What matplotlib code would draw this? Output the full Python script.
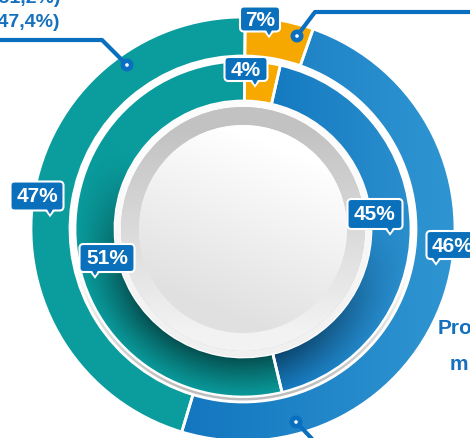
import numpy as np
import matplotlib
matplotlib.use('Agg')
import matplotlib.pyplot as plt
from matplotlib.patches import Circle, FancyBboxPatch, Polygon, Wedge
from matplotlib.colors import to_rgb

# arc sizes as drawn (percent of the circle), clockwise from the top
outer_share = [5.2, 49.3, 45.5]
inner_share = [3.4, 42.7, 53.9]
# percentages printed on the tags
outer_tags = ['7%', '46%', '47%']
inner_tags = ['4%', '45%', '51%']
side_notes = ['(51,2%)', '(47,4%)']
right_notes = ['Pro', 'm']

ORANGE = '#F7A800'
BLUE = '#1A7EC4'
TEAL = '#0B9A9B'
TAG = '#0A70BC'
INK = '#1570BE'

W, H = 470, 439
CX, CY = 243, H - 230

fig = plt.figure(figsize=(4.70, 4.39), dpi=100)
ax = fig.add_axes([0, 0, 1, 1])

X, Y = np.meshgrid(np.arange(W) + 0.5, np.arange(H) + 0.5)
RR = np.hypot(X - CX, Y - CY)


def lerp(c1, c2, t):
    a, b = np.array(to_rgb(c1)), np.array(to_rgb(c2))
    t = np.clip(t, 0, 1)[..., None]
    return a * (1 - t) + b * t


def flat(c):
    return np.ones((H, W, 3)) * np.array(to_rgb(c))


def paint(patch, rgb, z=1.5):
    im = ax.imshow(rgb, extent=(0, W, 0, H), origin='lower', zorder=z,
                   interpolation='bilinear')
    im.set_clip_path(patch)


def shadow(r_in, depth):
    # cast by the centre disc towards the lower left
    s = np.clip(1 - (RR - r_in) / 42, 0, 1) ** 1.2
    ux, uy = (X - CX) / (RR + 1e-9), (Y - CY) / (RR + 1e-9)
    b = np.clip(0.25 + 0.85 * (-0.3 * ux - uy), 0, 1)
    return (1 - depth * s * b)[..., None]


wp = dict(edgecolor='white', linewidth=2)
outer, _ = ax.pie(outer_share, radius=212, center=(CX, CY), startangle=89.4,
                  counterclock=False, colors=[ORANGE, BLUE, TEAL],
                  wedgeprops=dict(width=39, **wp))
inner, _ = ax.pie(inner_share, radius=168, center=(CX, CY), startangle=89.4,
                  counterclock=False, colors=[ORANGE, BLUE, TEAL],
                  wedgeprops=dict(width=40, **wp))

fills = [
    (outer[0], flat('#F7A800')),
    (outer[1], lerp('#1376BF', '#3096D2', (X - 180) / 280)),
    (outer[2], flat('#0B9C9D')),
    (inner[0], flat('#F8A900')),
    (inner[1], lerp('#1379C0', '#2A8ECD', (X - 260) / 150) * shadow(128, 0.45)),
    (inner[2], flat('#0A9C9D') * shadow(128, 0.5)),
]
for w, rgb in fills:
    paint(w, rgb)
    w.set_facecolor('none')
    w.set_zorder(3)

# soft grey on the lower part of the white gap
gap = Wedge((CX, CY), 171.5, 0, 360, width=2.5, fc='white', ec='none', zorder=3.5)
ax.add_patch(gap)
paint(gap, lerp('#FFFFFF', '#BDBDBD', (CY - 40 - Y) / 120), 3.5)

# centre button
ring = Circle((CX, CY), 128, fc='#F6F6F6', ec='none', zorder=4)
ax.add_patch(ring)
paint(ring, lerp('#FCFCFC', '#EFEFEF', (CY + 60 - Y) / 200), 4)
bevel = Circle((CX, CY), 122, fc='#D0D0D0', ec='none', zorder=4.1)
ax.add_patch(bevel)
paint(bevel, lerp('#C2C2C2', '#F2F2F2', ((CY + 100) - Y) / 200), 4.1)
disc = Circle((CX, CY), 104, fc='#F0F0F0', ec='none', zorder=4.2)
ax.add_patch(disc)
diag = (0.4 * (X - CX) + (Y - CY)) / 104
paint(disc, lerp('#E0E0E0', '#FFFFFF', 0.5 + diag * 0.55), 4.2)

# callout lines with dots (pixel coordinates, y down)
calls = [
    [(297, 37), (315, 13), (475, 13)],
    [(127, 66), (102, 41), (-5, 41)],
    [(296, 423), (316, 444)],
]
for pts in calls:
    xs = [p[0] for p in pts]
    ys = [H - p[1] for p in pts]
    ax.plot(xs, ys, color='#0A6FBF', lw=3, solid_capstyle='butt', zorder=7)
    ax.add_patch(Circle((xs[0], ys[0]), 6.5, fc='#0A6FBF', ec='none', zorder=7.1))
    ax.add_patch(Circle((xs[0], ys[0]), 1.8, fc='white', ec='none', zorder=7.2))

# tags: centre x, centre y, width, height, pointer x (pixels)
tag_boxes = [
    (260, 20, 40, 25, 269), (452, 246, 51, 28, 436), (37, 197, 53, 29, 50),
    (246, 70, 43, 24, 255), (375, 215, 55, 30, 390), (107, 259, 55, 28, 95),
]
for (x, yp, w, h, px), txt in zip(tag_boxes, outer_tags + inner_tags):
    y = H - yp
    yb = y - h / 2
    ax.add_patch(Polygon([(px - 4.5, yb + 1), (px + 4.5, yb + 1), (px, yb - 5)],
                         closed=True, fc=TAG, ec='white', lw=1.5, zorder=8))
    ax.add_patch(FancyBboxPatch((x - w / 2, yb), w, h,
                                boxstyle='round,pad=0,rounding_size=4',
                                fc=TAG, ec='white', lw=1.5, zorder=8.1))
    ax.add_patch(Polygon([(px - 3.2, yb + 1.5), (px + 3.2, yb + 1.5), (px, yb - 3.5)],
                         closed=True, fc=TAG, ec='none', zorder=8.2))
    ax.text(x, y, txt, color='white', fontsize=15, fontweight='bold',
            family='Liberation Sans', ha='center', va='center', zorder=9)

# cut-off side texts
for txt, yp in zip(side_notes, [-2, 22]):
    ax.text(60, H - yp, txt, color=INK, fontsize=14, fontweight='bold',
            family='Liberation Sans', ha='right', va='center', zorder=9)
for txt, xp, yp in zip(right_notes, [438, 450], [329, 365]):
    ax.text(xp, H - yp, txt, color=INK, fontsize=15, fontweight='bold',
            family='Liberation Sans', ha='left', va='center', zorder=9)

ax.set_xlim(0, W)
ax.set_ylim(0, H)
ax.set_aspect('auto')
ax.axis('off')
fig.savefig('out.png', dpi=100)
